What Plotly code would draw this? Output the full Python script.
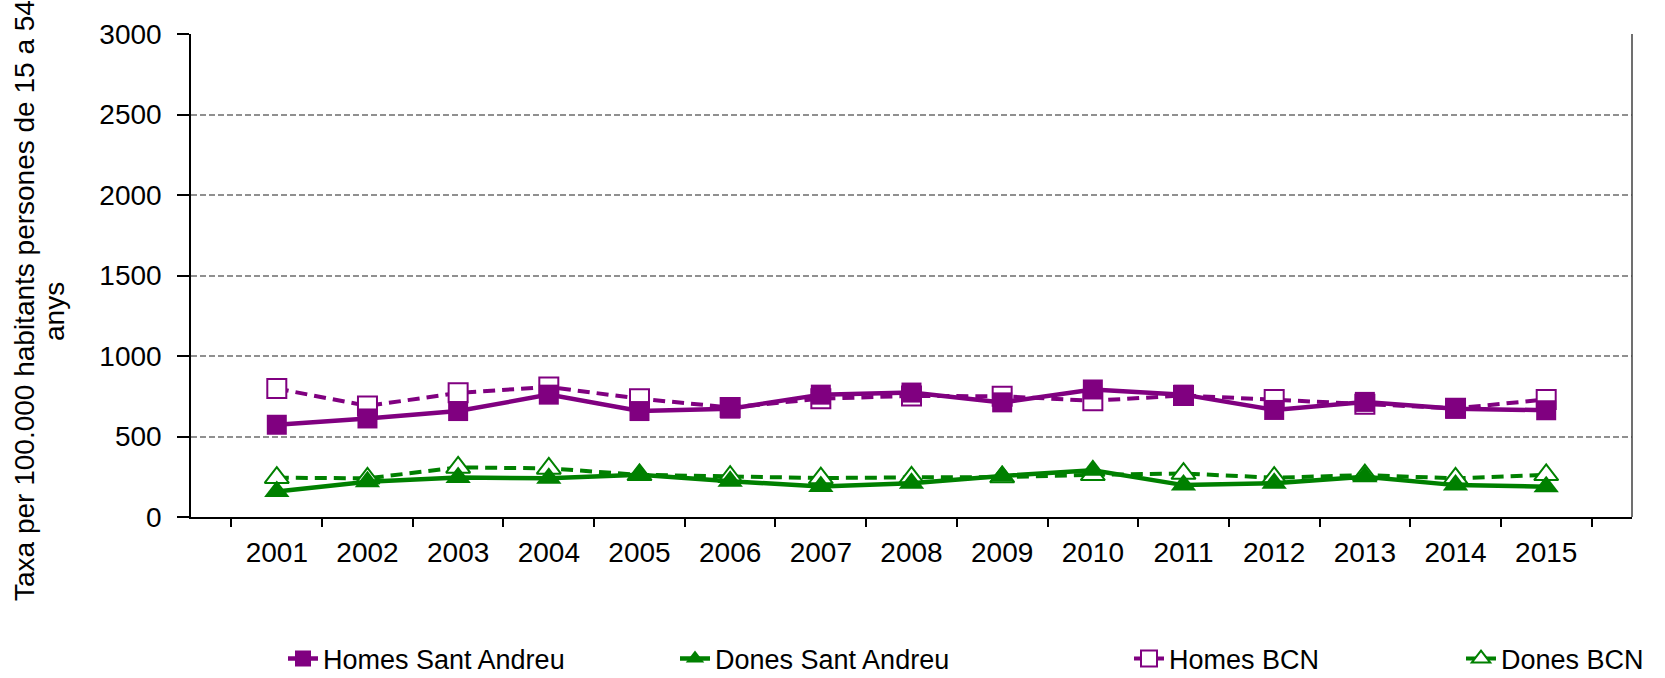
import plotly.graph_objects as go

years = ["2001", "2002", "2003", "2004", "2005", "2006", "2007", "2008",
         "2009", "2010", "2011", "2012", "2013", "2014", "2015"]
homes_sa = [573, 612, 658, 760, 658, 673, 760, 773, 712, 792, 760, 665, 715, 673, 663]
dones_sa = [158, 219, 246, 240, 262, 222, 190, 210, 255, 290, 198, 210, 250, 198, 188]
homes_bcn = [798, 690, 771, 808, 735, 680, 735, 752, 750, 722, 755, 730, 700, 675, 730]
dones_bcn = [244, 240, 308, 302, 262, 250, 242, 246, 248, 262, 270, 244, 260, 240, 262]

names = ["Homes Sant Andreu", "Dones Sant Andreu", "Homes BCN", "Dones BCN"]
title_line1 = "Taxa per 100.000 habitants persones de 15 a 54"
title_line2 = "anys"

PURPLE = "#800080"
GREEN = "#008000"
FONT = "Liberation Sans, Arial, sans-serif"
FS = 28

fig = go.Figure()

# BCN series (drawn first, underneath)
fig.add_trace(go.Scatter(
    x=years, y=homes_bcn, name=names[2], mode="lines+markers",
    line=dict(color=PURPLE, width=4, dash="12px,7px"),
    marker=dict(symbol="square", size=19, color="white",
                line=dict(color=PURPLE, width=2)),
    legend="legend3"))
fig.add_trace(go.Scatter(
    x=years, y=dones_bcn, name=names[3], mode="lines+markers",
    line=dict(color=GREEN, width=4, dash="12px,7px"),
    marker=dict(symbol="triangle-up", size=21, color="white",
                line=dict(color=GREEN, width=2)),
    legend="legend4"))
# Sant Andreu series
fig.add_trace(go.Scatter(
    x=years, y=homes_sa, name=names[0], mode="lines+markers",
    line=dict(color=PURPLE, width=4.5),
    marker=dict(symbol="square", size=20, color=PURPLE),
    legend="legend"))
fig.add_trace(go.Scatter(
    x=years, y=dones_sa, name=names[1], mode="lines+markers",
    line=dict(color=GREEN, width=4.5),
    marker=dict(symbol="triangle-up", size=22, color=GREEN),
    legend="legend2"))

L, R, T, B = 191, 33, 34, 161
W, H = 1665, 678
pw = W - L - R
ph = H - T - B

def px_x(p):
    return (p - L) / pw

def px_y(p):
    return (H - B - p) / ph

leg_common = dict(orientation="h", yanchor="middle", xanchor="left",
                  font=dict(family=FONT, size=27, color="black"),
                  bgcolor="rgba(0,0,0,0)", itemwidth=30,
                  borderwidth=0)
ly = px_y(659)
fig.update_layout(
    legend=dict(x=px_x(283), y=ly, **leg_common),
    legend2=dict(x=px_x(675), y=ly, **leg_common),
    legend3=dict(x=px_x(1129), y=ly, **leg_common),
    legend4=dict(x=px_x(1461), y=ly, **leg_common),
)

title_font = dict(family=FONT, size=FS, color="black")
fig.update_layout(
    width=W, height=H,
    margin=dict(l=L, r=R, t=T, b=B, autoexpand=False),
    paper_bgcolor="white", plot_bgcolor="white",
    font=dict(family=FONT, size=FS, color="black"),
    showlegend=True,
    xaxis=dict(type="category", tickson="boundaries", ticks="outside",
               ticklen=8, tickwidth=1.5, tickcolor="black",
               showline=True, linecolor="black", linewidth=1.5,
               showgrid=False, ticklabelstandoff=10,
               tickfont=dict(family=FONT, size=FS, color="black")),
    yaxis=dict(range=[0, 3000], dtick=500, tick0=0, ticks="outside",
               ticklen=12, tickwidth=1.5, tickcolor="black",
               showline=True, linecolor="black", linewidth=1.5,
               showgrid=True, gridcolor="#909090", gridwidth=2,
               griddash="6px,3px", zeroline=False, ticklabelstandoff=10,
               tickfont=dict(family=FONT, size=FS, color="black")),
    shapes=[dict(type="line", xref="paper", yref="paper", x0=1, x1=1,
                 y0=0, y1=1, line=dict(color="#404040", width=1.5))],
    annotations=[
        dict(text=title_line1, xref="paper", yref="paper",
             x=px_x(24), y=px_y(301), xanchor="center", yanchor="middle",
             textangle=-90, showarrow=False, font=title_font),
        dict(text=title_line2, xref="paper", yref="paper",
             x=px_x(54), y=px_y(312), xanchor="center", yanchor="middle",
             textangle=-90, showarrow=False, font=title_font),
    ],
)

fig.write_html("out.html", config={"displayModeBar": False},
               post_script="document.body.style.margin='0';document.body.style.overflow='hidden';")
